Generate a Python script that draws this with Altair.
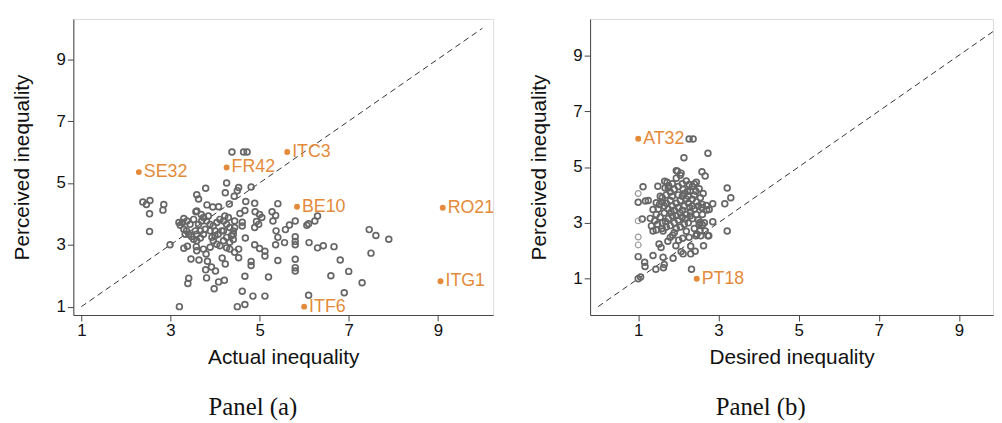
import altair as alt
import pandas as pd

# ---------------- Panel (a): actual vs perceived ----------------
a_x = [4.38, 4.64, 4.72, 3.79, 4.26, 4.23, 4.53, 4.50, 4.43, 4.81, 3.59, 3.63, 2.38, 2.46, 2.54,
       2.53, 2.53, 2.85, 2.83, 2.99, 3.20, 3.82, 3.95, 4.08, 4.32, 4.69, 4.89, 3.57, 3.69, 4.67,
       4.56, 4.90, 5.00, 5.05, 5.28, 5.36, 5.41, 6.30, 6.24, 6.06, 6.10, 5.80, 5.67, 5.58, 5.37,
       5.30, 4.98, 4.93, 4.89, 4.61, 4.61, 4.41, 4.41, 4.68, 4.89, 5.00, 5.12, 5.12, 5.36, 5.56,
       5.41, 5.80, 5.80, 5.80, 6.11, 6.30, 6.43, 6.67, 7.46, 7.61, 7.90, 7.50, 6.81, 7.00, 6.60,
       7.30, 6.90, 6.10, 5.41, 5.80, 5.80, 5.80, 5.20, 5.12, 4.85, 4.67, 4.61, 4.50, 4.67, 4.81,
       4.81, 4.53, 4.44, 4.33, 4.26, 4.53, 4.23, 4.16, 4.21, 4.08, 3.98, 4.01, 3.92, 3.79, 3.81,
       3.64, 3.46, 3.41, 3.39, 3.83, 3.80, 3.59, 3.58, 3.30, 3.38,
       3.30, 3.27, 3.22, 3.30, 3.36, 3.41, 3.47, 3.52, 3.59, 3.67, 3.74, 3.59, 3.56, 3.63, 3.70,
       3.74, 3.81, 3.89, 3.96, 4.04, 4.11, 4.19, 4.26, 4.33, 4.41, 4.44, 4.30, 4.22, 4.15, 4.07,
       4.00, 3.93, 3.96, 4.04, 4.11, 4.19, 4.26, 4.33, 3.89, 3.78, 3.67, 3.44, 3.37, 3.52, 3.59,
       3.85, 3.19, 3.33, 3.89, 3.74, 4.37, 4.44, 4.00, 4.19]
a_y = [6.00, 6.00, 6.00, 4.83, 5.00, 4.68, 4.85, 4.75, 4.57, 4.87, 4.62, 4.48, 4.38, 4.30, 4.43,
       4.00, 3.43, 4.30, 4.12, 3.00, 1.00, 4.29, 4.22, 4.23, 4.32, 4.40, 4.34, 4.07, 3.98, 4.11,
       4.01, 4.07, 3.98, 3.88, 4.07, 3.95, 4.33, 3.93, 3.77, 3.63, 3.68, 3.77, 3.64, 3.49, 3.45,
       3.77, 3.66, 3.75, 3.56, 3.73, 3.61, 3.34, 3.17, 3.22, 3.00, 2.88, 2.79, 2.64, 3.00, 3.07,
       3.24, 3.26, 3.11, 3.00, 3.07, 2.90, 2.97, 2.94, 3.49, 3.30, 3.18, 2.73, 2.51, 2.14, 2.00,
       1.77, 1.45, 1.37, 2.49, 2.53, 2.26, 2.15, 1.96, 1.34, 1.34, 1.98, 1.50, 1.00, 1.07, 2.46,
       2.33, 2.58, 2.76, 2.86, 2.90, 2.86, 2.38, 2.57, 1.85, 1.80, 1.58, 2.15, 2.28, 2.19, 1.93,
       2.51, 2.54, 1.92, 1.75, 2.47, 2.70, 2.81, 2.94, 2.89, 2.95,
       3.85, 3.72, 3.63, 3.50, 3.45, 3.34, 3.27, 3.18, 3.13, 3.22, 3.34, 3.34, 3.45, 3.66, 3.77,
       3.88, 3.77, 3.66, 3.61, 3.72, 3.82, 3.77, 3.66, 3.56, 3.45, 3.56, 3.88, 3.93, 3.45, 3.34,
       3.29, 3.24, 3.13, 3.02, 2.97, 3.13, 3.24, 3.08, 3.45, 3.50, 3.45, 3.66, 3.77, 3.82, 4.09,
       3.93, 3.72, 3.34, 2.92, 2.86, 3.29, 3.77, 3.45, 3.45]
a_labels = ["SE32", "FR42", "ITC3", "BE10", "RO21", "ITG1", "ITF6"]
a_lab_x = [2.29, 4.26, 5.62, 5.84, 9.11, 9.06, 6.00]
a_lab_y = [5.35, 5.50, 6.00, 4.23, 4.20, 1.82, 1.00]

# ---------------- Panel (b): desired vs perceived ----------------
b_x = [2.27, 2.37, 2.14, 2.74, 2.59, 2.67, 1.95, 2.07, 3.22, 3.31, 3.16, 3.22, 2.86, 2.86, 2.76,
       2.63, 2.33, 1.00, 1.12, 1.18, 1.25, 1.10, 1.30, 1.00, 1.16, 1.17, 1.00, 1.06, 1.44, 1.63,
       1.65, 1.37, 1.62, 1.87, 1.52, 1.57, 1.74, 1.80, 1.94, 2.07, 2.12, 2.31, 2.42, 2.31, 2.44,
       2.56, 2.27, 2.11, 2.01, 1.86, 1.62, 1.45, 1.37, 2.54, 2.60, 2.67, 2.74, 2.54, 2.46, 2.71,
       2.77, 2.60, 2.44, 2.52, 2.40, 2.27, 2.23, 1.49, 1.66, 1.76, 1.67, 1.45, 1.53, 1.37, 1.45,
       1.41, 1.33,
       1.60, 1.70, 1.80, 1.90, 2.00, 2.10, 2.20, 1.95, 2.05, 2.15, 2.25, 2.35, 2.45, 2.55, 2.50,
       2.40, 2.30, 2.20, 2.10, 2.00, 1.90, 1.80, 1.70, 1.60, 1.55, 1.65, 1.75, 1.85, 1.95, 2.05,
       2.15, 2.25, 2.35, 2.45, 2.35, 2.25, 2.15, 2.05, 1.95, 1.85, 1.75, 1.65, 1.60, 1.70, 1.80,
       1.90, 2.00, 2.10, 2.20, 2.30, 2.40, 2.50, 2.60, 2.65, 1.50, 1.55, 1.75, 1.85, 2.00, 2.10,
       2.30, 2.05, 1.95, 1.85, 1.72, 2.35, 2.45, 1.60, 1.90, 2.20, 2.40, 1.48, 1.98, 2.12, 2.28,
       2.18, 1.82, 1.68, 2.58, 2.62, 2.70, 2.52]
b_y = [6.00, 6.00, 5.33, 5.49, 4.83, 4.68, 4.87, 4.78, 4.25, 3.90, 3.68, 2.71, 3.68, 3.04, 2.54,
       2.18, 1.34, 3.74, 4.29, 3.78, 3.80, 3.14, 3.16, 1.79, 1.59, 1.44, 1.00, 1.06, 1.34, 1.39,
       1.51, 1.83, 1.77, 1.73, 2.24, 2.12, 2.34, 2.48, 2.18, 1.97, 1.89, 1.89, 1.98, 2.16, 2.54,
       2.54, 2.48, 2.45, 2.38, 2.56, 2.71, 2.74, 2.71, 3.01, 2.93, 2.71, 2.54, 2.71, 2.60, 3.46,
       3.48, 3.66, 4.13, 4.22, 4.39, 4.37, 4.13, 4.31, 4.49, 4.33, 4.25, 3.72, 3.66, 3.48, 3.30,
       3.07, 2.89,
       3.90, 4.00, 4.10, 4.20, 4.30, 4.40, 4.50, 4.60, 4.70, 4.05, 3.95, 3.85, 3.75, 3.90, 3.60,
       3.50, 3.40, 3.30, 3.20, 3.10, 3.00, 2.90, 2.85, 3.00, 3.20, 3.35, 3.50, 3.60, 3.70, 3.80,
       3.60, 3.70, 3.60, 3.30, 3.15, 3.00, 2.95, 2.85, 2.80, 3.25, 3.15, 3.60, 3.75, 3.70, 3.80,
       3.45, 3.55, 3.45, 3.85, 4.15, 4.00, 3.10, 3.30, 3.00, 3.50, 3.95, 4.25, 4.40, 4.00, 3.95,
       3.25, 3.35, 3.25, 3.95, 4.45, 4.30, 4.45, 2.80, 2.65, 2.70, 2.80, 2.95, 4.85, 4.20, 3.55,
       3.15, 3.38, 3.05, 3.55, 4.05, 3.62, 2.95]
b_light_x = [1.00, 1.00, 1.00, 1.00]
b_light_y = [4.05, 3.07, 2.49, 2.21]
b_labels = ["AT32", "PT18"]
b_lab_x = [1.00, 2.46]
b_lab_y = [6.01, 1.00]

# diagonal (45-degree) reference lines
a_diag = [1, 10]
b_diag = [0, 10]

ORANGE = "#E38B3B"
GRAY = "#666666"
FONT = "Liberation Sans"


def panel(px, py, lx, ly, lab, diag, light_x, light_y, xdom, ydom, xtitle, ptitle, w):
    xs = alt.Scale(domain=xdom, nice=False, zero=False)
    ys = alt.Scale(domain=ydom, nice=False, zero=False)
    common = dict(values=[1, 3, 5, 7, 9], grid=False, domainColor="#444", tickColor="#444",
                  tickSize=6, labelFontSize=17, titleFontSize=21, labelFont=FONT, titleFont=FONT,
                  labelColor="#111", titleColor="#111", titleFontWeight="normal", labelPadding=2)
    xax = alt.Axis(title=xtitle, titlePadding=8, **common)
    yax = alt.Axis(title="Perceived inequality", titlePadding=24, **common)

    dd = pd.DataFrame({"x": diag, "y": diag})
    line = alt.Chart(dd).mark_line(strokeDash=[6, 4], color="#333", strokeWidth=1, clip=True).encode(
        x=alt.X("x:Q", scale=xs, axis=xax), y=alt.Y("y:Q", scale=ys, axis=yax))
    layers = [line]
    pts = pd.DataFrame({"x": px, "y": py})
    layers.append(alt.Chart(pts).mark_point(shape="circle", filled=False, size=34, strokeWidth=1.7,
                                            color=GRAY, opacity=1).encode(x="x:Q", y="y:Q"))
    if light_x:
        lp = pd.DataFrame({"x": light_x, "y": light_y})
        layers.append(alt.Chart(lp).mark_point(shape="circle", filled=False, size=34, strokeWidth=1.2,
                                               color="#999999", opacity=1).encode(x="x:Q", y="y:Q"))
    ld = pd.DataFrame({"x": lx, "y": ly, "label": lab})
    layers.append(alt.Chart(ld).mark_circle(size=36, color=ORANGE, opacity=1).encode(x="x:Q", y="y:Q"))
    layers.append(alt.Chart(ld).mark_text(align="left", baseline="middle", dx=5, fontSize=18,
                                          font=FONT, color=ORANGE).encode(x="x:Q", y="y:Q", text="label:N"))
    return alt.layer(*layers).properties(
        width=w, height=299,
        title=alt.TitleParams(ptitle, orient="bottom", anchor="middle", frame="bounds",
                              font="Liberation Serif", fontSize=25, fontWeight="normal",
                              color="#111", offset=28))


left = panel(a_x, a_y, a_lab_x, a_lab_y, a_labels, a_diag, [], [], [0.82, 10.24], [0.73, 10.3],
             "Actual inequality", "Panel (a)", 424)
right = panel(b_x, b_y, b_lab_x, b_lab_y, b_labels, b_diag, b_light_x, b_light_y, [-0.2, 9.85],
              [-0.3, 10.3], "Desired inequality", "Panel (b)", 407)

chart = alt.hconcat(left, right, spacing=33).properties(
    padding={"left": 3, "top": 8, "right": 0, "bottom": 0}
).configure_view(stroke=None).configure(background="white")

chart.save("out.html", embed_options={"renderer": "svg", "actions": False})
